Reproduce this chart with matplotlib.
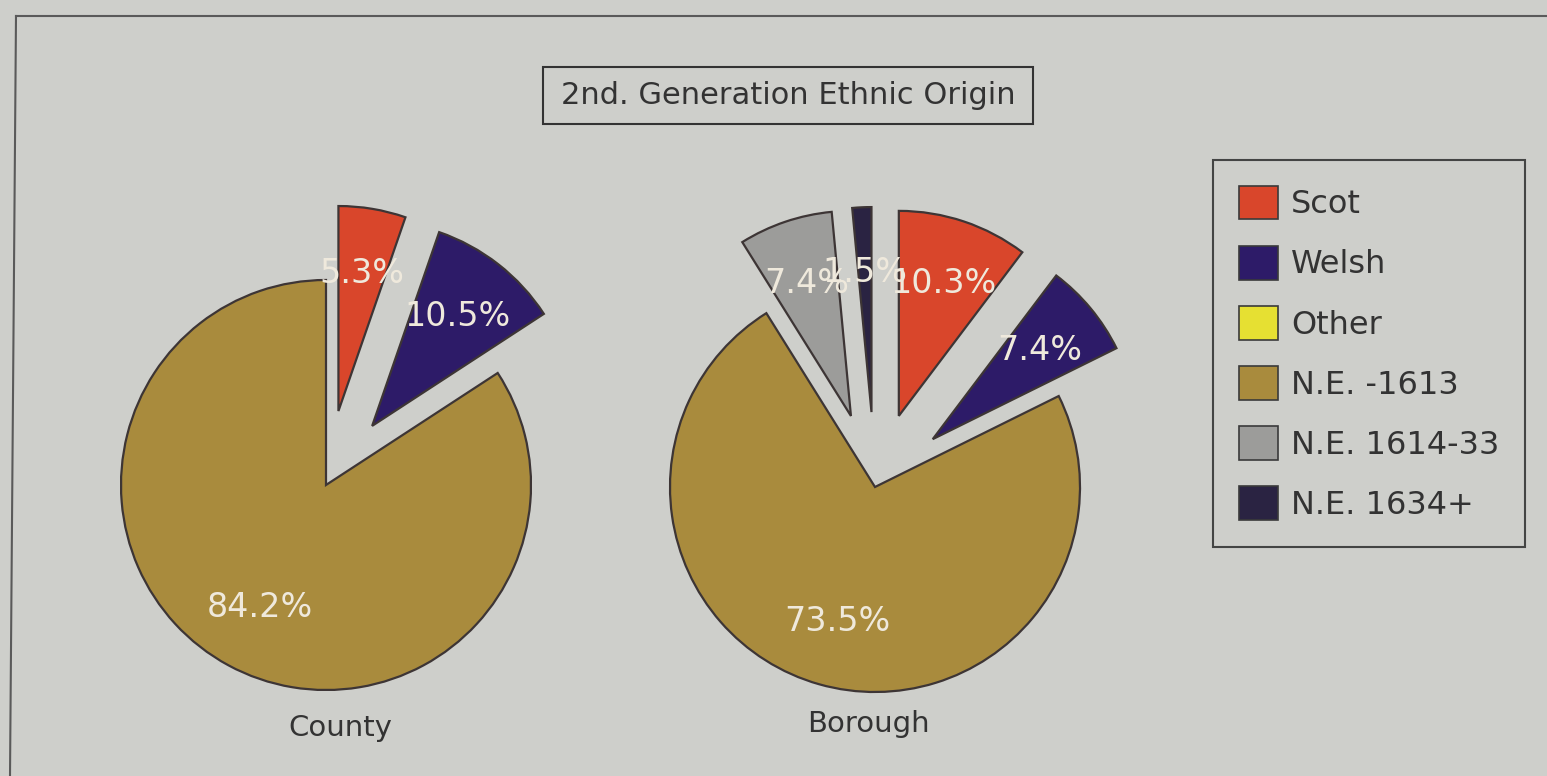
import matplotlib.pyplot as plt
from matplotlib.patches import Patch, Rectangle

# data
legend_labels = ['Scot', 'Welsh', 'Other', 'N.E. -1613', 'N.E. 1614-33', 'N.E. 1634+']
legend_colors = ['#d9462b', '#2d1b68', '#e6e032', '#a98b3d', '#9c9c9a', '#2a2342']

county_vals = [5.3, 10.5, 84.2]
county_cols = ['#d9462b', '#2d1b68', '#a98b3d']
county_expl = [1, 1, 0]

borough_vals = [10.3, 7.4, 73.5, 7.4, 1.5]
borough_cols = ['#d9462b', '#2d1b68', '#a98b3d', '#9c9c9a', '#2a2342']
borough_expl = [1, 1, 0, 1, 1]

W, H = 1547, 776
BG = '#cecfcb'
EDGE = '#3d3535'

fig = plt.figure(figsize=(W / 100, H / 100), dpi=100, facecolor=BG)
ax = fig.add_axes([0, 0, 1, 1])

R = 205
EXP = 75


def pie(vals, cols, expl, cx, cy):
    it = iter(f'{v}%' for v in vals)
    ax.pie(vals, colors=cols, explode=[e * EXP for e in expl],
           startangle=90, counterclock=False, radius=R, center=(cx, H - cy),
           autopct=lambda p: next(it), pctdistance=0.68,
           textprops=dict(color='#efe9dc', fontsize=24),
           wedgeprops=dict(edgecolor=EDGE, linewidth=1.6), frame=True)


pie(county_vals, county_cols, county_expl, 326, 485)
pie(borough_vals, borough_cols, borough_expl, 875, 487)
ax.set_xlim(0, W)
ax.set_ylim(0, H)
ax.set_aspect('equal')
ax.axis('off')

ax.text(340, H - 728, 'County', ha='center', va='center', fontsize=21, color='#333333')
ax.text(868, H - 724, 'Borough', ha='center', va='center', fontsize=21, color='#333333')

# title box
ax.add_patch(Rectangle((543, H - 124), 490, 57, facecolor='none', edgecolor='#333333', lw=1.5))
ax.text(788, H - 95, '2nd. Generation Ethnic Origin', ha='center', va='center',
        fontsize=22, color='#333333')

# outer frame
ax.plot([16, W], [H - 16, H - 16], color='#5a5a5a', lw=1.5)
ax.plot([16, 10], [H - 16, 0], color='#5a5a5a', lw=1.5)

handles = [Patch(facecolor=c, edgecolor='#3a3a3a', linewidth=1.2) for c in legend_colors]
leg = fig.legend(handles, legend_labels, loc='upper left',
                 bbox_to_anchor=(1213 / W, 1 - 160 / H), bbox_transform=fig.transFigure,
                 fontsize=23, frameon=True, fancybox=False, edgecolor='#222222',
                 facecolor=BG, handlelength=1.25, handleheight=1.25,
                 handletextpad=0.4, labelspacing=0.8, borderpad=0.8, borderaxespad=0)
leg.get_frame().set_linewidth(1.5)
for t in leg.get_texts():
    t.set_color('#333333')

fig.savefig('out.png', dpi=100, facecolor=BG)
